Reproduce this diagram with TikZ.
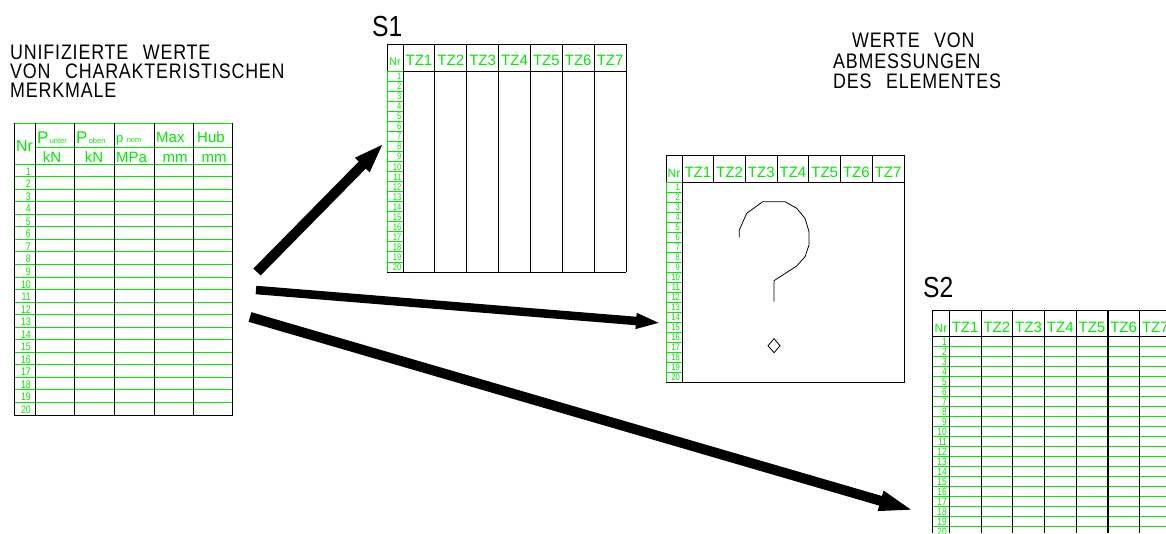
\documentclass[tikz,border=0pt]{standalone}
\usepackage{fontspec}
\setmainfont{Liberation Sans}
\newfontfamily\cadfont[FakeStretch=0.85,WordSpace=2.5]{Liberation Sans}
\newfontfamily\capfont[FakeStretch=0.85,WordSpace=2.5,LetterSpace=4]{Liberation Sans}
\newfontfamily\numfont[FakeStretch=0.8]{Liberation Sans}
\usetikzlibrary{arrows.meta}
\definecolor{cadgreen}{RGB}{0,235,0}

\begin{document}
\begin{tikzpicture}[x=1pt, y=-1pt,
    grid/.style={draw=black, line width=0.9pt},
    rowline/.style={draw=cadgreen, line width=0.9pt},
    title/.style={font=\capfont\fontsize{21}{21}\selectfont, anchor=base west, inner sep=0pt},
    sheet/.style={font=\cadfont\fontsize{29}{29}\selectfont, anchor=base west, inner sep=0pt},
    head/.style={text=cadgreen, font=\fontsize{15}{15}\selectfont, anchor=base, inner sep=0pt},
    num/.style={text=cadgreen, font=\numfont\fontsize{9.5}{9.5}\selectfont, anchor=base east, inner sep=0pt},
    arrow/.style={line width=10pt, -{Triangle[length=31pt, width=18pt]}}
]
\fill[white] (0,0) rectangle (1166,533);
\useasboundingbox (0,0) rectangle (1166,533);

% Captions
\node[title] (capA1) at (10,59) {UNIFIZIERTE WERTE};
\node[title] (capA2) at (10,78) {VON CHARAKTERISTISCHEN};
\node[title] (capA3) at (10,97) {MERKMALE};
\node[title] (capB1) at (852,47) {WERTE VON};
\node[title] (capB2) at (833,68) {ABMESSUNGEN};
\node[title] (capB3) at (833,88) {DES ELEMENTES};
\node[sheet] (nameS1) at (372,36) {S1};
\node[sheet] (nameS2) at (923,297) {S2};

% Table of characteristic values
\draw[rowline] (14,123) -- (232,123);
\draw[rowline] (35,147) -- (232,147);
\foreach \r in {0,...,19}
    \draw[rowline] (14,{164+12.55*\r}) -- (232,{164+12.55*\r});
\foreach \x in {35,74,114,154,193}
    \draw[grid] (\x,123) -- (\x,415);
\draw[grid] (14,123) -- (14,415) -- (232,415) -- (232,123);
\foreach \r in {1,...,20}
    \node[num, font=\numfont\fontsize{11}{11}\selectfont] (va\r) at (31,{164+12.55*\r-1.5}) {\r};
\node[head, font=\fontsize{16}{16}\selectfont] (vaNr) at (24.5,151.5) {Nr};
\node[head, anchor=base west, font=\fontsize{17}{17}\selectfont] (vaP1) at (37,143) {P{\fontsize{7.5}{7.5}\selectfont\,unter}};
\node[head, anchor=base west, font=\fontsize{17}{17}\selectfont] (vaP2) at (76,143) {P{\fontsize{7.5}{7.5}\selectfont\,oben}};
\node[head, anchor=base west, font=\fontsize{13}{13}\selectfont] (vaP3) at (116,142) {p{\fontsize{7.5}{7.5}\selectfont\;\,nom}};
\node[head, anchor=base west] (vaMax) at (156,142) {Max};
\node[head, anchor=base west] (vaHub) at (197,142) {Hub};
\node[head] (vaU1) at (52,162) {kN};
\node[head] (vaU2) at (94,162) {kN};
\node[head, anchor=base west] (vaU3) at (116,162) {MPa};
\node[head] (vaU4) at (175,162) {mm};
\node[head] (vaU5) at (214,162) {mm};

% Sheet S1
\foreach \r in {0,...,19}
    \draw[rowline] (387,{71+10.05*\r}) -- (403,{71+10.05*\r});
\draw[rowline] (387,71) -- (387,272);
\foreach \i in {0,...,7}
    \draw[grid] ({403+31.86*\i},44) -- ({403+31.86*\i},272);
\draw[grid] (387,71) -- (387,44) -- (626,44);
\draw[grid] (403,71) -- (626,71);
\draw[grid] (387,272) -- (626,272);
\node[head, font=\fontsize{11}{11}\selectfont] (s1Nr) at (395,65) {Nr};
\foreach \i in {1,...,7}
    \node[head] (s1h\i) at ({403+31.86*(\i-0.5)},65) {TZ\i};
\foreach \r in {1,...,20}
    \node[num] (s1n\r) at (401.5,{71+10.05*\r-1.5}) {\r};

% Sheet with unknown dimensions
\foreach \r in {0,...,19}
    \draw[rowline] (666,{182+10*\r}) -- (682,{182+10*\r});
\draw[rowline] (666,182) -- (666,382);
\foreach \i in {1,...,6}
    \draw[grid] ({682+31.71*\i},155) -- ({682+31.71*\i},182);
\draw[grid] (666,182) -- (666,155) -- (904,155) -- (904,382) -- (666,382);
\draw[grid] (682,155) -- (682,382);
\draw[grid] (682,182) -- (904,182);
\node[head, font=\fontsize{12}{12}\selectfont] (mNr) at (674,177) {Nr};
\foreach \i in {1,...,7}
    \node[head] (mh\i) at ({682+31.71*(\i-0.5)},177) {TZ\i};
\foreach \r in {1,...,20}
    \node[num] (mn\r) at (680,{182+10*\r-1.5}) {\r};
% question mark
\draw[line width=0.8pt] (739.3,237.3) -- (739.3,230) -- (746.7,213.3) -- (762.7,201.7)
    -- (785,201.7) -- (796.7,208.3) -- (805,218.3) -- (809,231.7) -- (809,245)
    -- (805,256.7) -- (796.7,266) -- (774,280.7) -- (774,301.7);
\draw[line width=0.8pt] (774,338.7) -- (780,345.7) -- (774,352.7) -- (768,345.7) -- cycle;

% Sheet S2
\foreach \r in {0,...,20}
    \draw[rowline] (932.7,{336.7+10*\r}) -- (1166,{336.7+10*\r});
\foreach \i in {0,...,6}
    \draw[grid] ({949.3+31.7*\i},310) -- ({949.3+31.7*\i},533);
\draw[grid, line width=2pt] (1108,310) -- (1108,533);
\draw[grid] (932.7,533) -- (932.7,310) -- (1166,310);
\draw[grid] (932.7,336.7) -- (1166,336.7);
\node[head, font=\fontsize{12}{12}\selectfont] (s2Nr) at (941,332) {Nr};
\foreach \i in {1,...,7}
    \node[head] (s2h\i) at ({949.3+31.7*(\i-0.5)},332) {TZ\i};
\foreach \r in {1,...,20}
    \node[num, font=\numfont\fontsize{10.5}{10.5}\selectfont] (s2n\r) at (947,{336.7+10*\r-1}) {\r};

% Arrows
\coordinate (outS1) at (257,272);
\coordinate (inS1) at (384,143);
\coordinate (outM) at (256,290);
\coordinate (inM) at (661,323);
\coordinate (outS2) at (250,317);
\coordinate (inS2) at (919,512);
\draw[arrow] (outS1) -- (inS1);
\draw[arrow, line width=8.5pt, -{Triangle[length=25pt, width=14pt]}] (outM) -- (inM);
\draw[arrow, -{Triangle[length=40pt, width=17pt]}] (outS2) -- (inS2);

\end{tikzpicture}
\end{document}
